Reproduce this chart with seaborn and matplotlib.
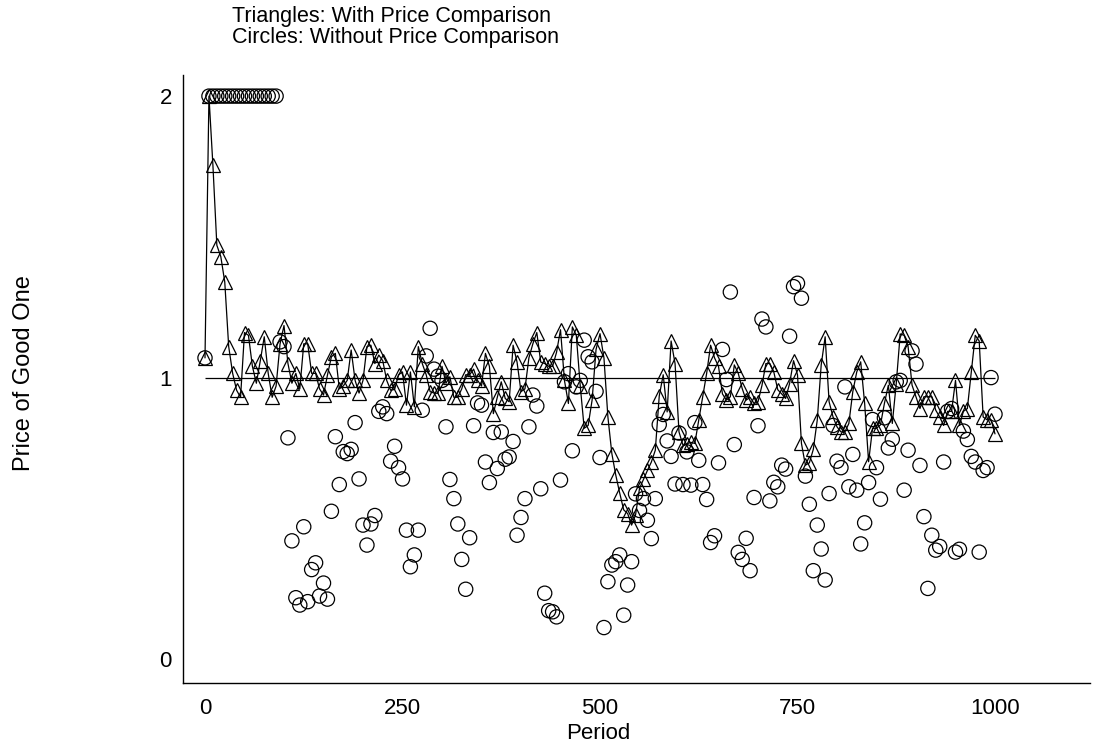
import numpy as np
import pandas as pd
import matplotlib
matplotlib.use("Agg")
import matplotlib.pyplot as plt
import seaborn as sns

# Price of good one, sampled every 5 periods
periods = np.arange(0, 1001, 5)

with_comparison = [
    1.07, 2.0, 1.755, 1.47, 1.43, 1.34, 1.11, 1.015, 0.955, 0.93,
    1.16, 1.15, 1.04, 0.98, 1.06, 1.145, 1.015, 0.93, 0.97, 1.12,
    1.185, 1.05, 0.98, 1.015, 0.96, 1.12, 1.12, 1.015, 1.015, 0.96,
    0.938, 1.009, 1.074, 1.086, 0.96, 0.97, 0.99, 1.098, 0.99, 0.945,
    0.99, 1.11, 1.115, 1.05, 1.08, 1.06, 0.99, 0.955, 0.958, 1.01,
    1.02, 0.902, 1.02, 0.896, 1.11, 1.05, 1.01, 0.95, 0.945, 0.944,
    1.04, 0.98, 1.003, 0.93, 0.93, 0.96, 1.01, 1.01, 1.03, 0.99,
    0.97, 1.086, 1.04, 0.872, 0.93, 0.985, 0.926, 0.914, 1.115, 1.055,
    0.95, 0.96, 1.07, 1.12, 1.16, 1.055, 1.05, 1.04, 1.04, 1.09,
    1.17, 0.99, 0.908, 1.18, 1.15, 0.97, 0.82, 0.83, 0.92, 1.10,
    1.156, 1.07, 0.86, 0.73, 0.653, 0.589, 0.53, 0.517, 0.476, 0.512,
    0.606, 0.638, 0.67, 0.70, 0.742, 0.935, 1.01, 0.878, 1.13, 1.05,
    0.807, 0.76, 0.765, 0.77, 0.766, 0.849, 0.932, 1.015, 1.115, 1.07,
    1.04, 0.942, 0.92, 0.932, 1.045, 1.015, 0.961, 0.92, 0.93, 0.908,
    0.914, 0.972, 1.05, 1.05, 1.02, 0.957, 0.942, 0.926, 0.979, 1.06,
    1.01, 0.766, 0.689, 0.697, 0.745, 0.849, 1.045, 1.145, 0.914, 0.86,
    0.825, 0.807, 0.807, 0.837, 0.95, 1.02, 1.056, 0.908, 0.701, 0.82,
    0.82, 0.832, 0.908, 0.973, 0.837, 0.979, 1.155, 1.15, 1.11, 0.973,
    0.932, 0.89, 0.932, 0.932, 0.932, 0.884, 0.86, 0.83, 0.88, 0.88,
    0.99, 0.83, 0.88, 0.89, 1.02, 1.15, 1.13, 0.86, 0.85, 0.85,
    0.80,
]

without_comparison = [
    1.07, 2.0, 2.0, 2.0, 2.0, 2.0, 2.0, 2.0, 2.0, 2.0,
    2.0, 2.0, 2.0, 2.0, 2.0, 2.0, 2.0, 2.0, 2.0, 1.127,
    1.11, 0.786, 0.42, 0.218, 0.192, 0.47, 0.204, 0.318, 0.342, 0.224,
    0.27, 0.213, 0.525, 0.79, 0.62, 0.737, 0.73, 0.745, 0.84, 0.64,
    0.476, 0.405, 0.48, 0.51, 0.88, 0.896, 0.872, 0.703, 0.756, 0.68,
    0.64, 0.458, 0.328, 0.37, 0.458, 0.884, 1.077, 1.175, 1.03, 1.005,
    0.99, 0.825, 0.638, 0.57, 0.48, 0.354, 0.248, 0.431, 0.829, 0.91,
    0.902, 0.70, 0.627, 0.805, 0.677, 0.807, 0.71, 0.718, 0.773, 0.44,
    0.503, 0.57, 0.825, 0.938, 0.899, 0.605, 0.234, 0.172, 0.168, 0.15,
    0.636, 0.985, 1.014, 0.74, 0.967, 0.99, 1.133, 1.074, 1.056, 0.951,
    0.716, 0.112, 0.275, 0.334, 0.346, 0.37, 0.156, 0.263, 0.346, 0.587,
    0.528, 0.57, 0.493, 0.428, 0.57, 0.833, 0.869, 0.775, 0.72, 0.622,
    0.803, 0.62, 0.736, 0.618, 0.84, 0.706, 0.62, 0.567, 0.414, 0.438,
    0.697, 1.10, 0.993, 1.304, 0.762, 0.379, 0.354, 0.429, 0.314, 0.574,
    0.829, 1.208, 1.18, 0.562, 0.628, 0.612, 0.689, 0.675, 1.147, 1.323,
    1.335, 1.282, 0.65, 0.55, 0.314, 0.476, 0.391, 0.281, 0.588, 0.83,
    0.703, 0.68, 0.967, 0.612, 0.727, 0.6, 0.409, 0.484, 0.627, 0.851,
    0.68, 0.568, 0.857, 0.75, 0.781, 0.985, 0.99, 0.6, 0.742, 1.095,
    1.048, 0.688, 0.506, 0.251, 0.44, 0.387, 0.40, 0.70, 0.88, 0.89,
    0.38, 0.39, 0.81, 0.78, 0.72, 0.70, 0.38, 0.67, 0.68, 1.0,
    0.87,
]

x_ticks = [0, 250, 500, 750, 1000]
y_ticks = [0, 1, 2]
reference_price = 1

title_lines = ["Triangles: With Price Comparison", "Circles: Without Price Comparison"]
x_label = "Period"
y_label = "Price of Good One"

df = pd.DataFrame({
    "period": periods,
    "with_cmp": with_comparison,
    "without_cmp": without_comparison,
})

sns.set_style("white")
plt.rcParams["font.family"] = ["Liberation Sans", "DejaVu Sans"]
plt.rcParams["text.color"] = "black"
plt.rcParams["axes.labelcolor"] = "black"

W, H = 1113, 751
AX_L, AX_R, AX_T, AX_B = 183, 1090, 75, 683
fig = plt.figure(figsize=(W / 100, H / 100), dpi=100)
ax = fig.add_axes([AX_L / W, 1 - AX_B / H, (AX_R - AX_L) / W, (AX_B - AX_T) / H])

# horizontal reference at the competitive price
ax.hlines(reference_price, df["period"].min(), df["period"].max(),
          color="black", linewidth=0.9, zorder=1)

# circles: prices without price comparison
sns.scatterplot(data=df, x="period", y="without_cmp", ax=ax, marker="o",
                s=105, facecolors="none", edgecolor="black", linewidth=0.9,
                zorder=2, legend=False)

# triangles joined by a line: prices with price comparison
sns.lineplot(data=df, x="period", y="with_cmp", ax=ax, color="black",
             linewidth=0.9, marker="^", markersize=9.5,
             markerfacecolor="none", markeredgecolor="black",
             markeredgewidth=0.9, zorder=3, legend=False)

# 0 sits at x=205 px, 1000 at x=995 px
px_per_unit = 0.79
ax.set_xlim((AX_L - 205) / px_per_unit, (AX_R - 205) / px_per_unit)
ax.set_ylim(-0.085, 2.075)
ax.set_xticks(x_ticks)
ax.set_xticklabels([str(t) for t in x_ticks])
ax.set_yticks(y_ticks)
ax.set_yticklabels([str(t) for t in y_ticks])

for side in ("top", "right"):
    ax.spines[side].set_visible(False)
for side in ("left", "bottom"):
    ax.spines[side].set_color("black")
    ax.spines[side].set_linewidth(1.0)

ax.tick_params(axis="both", direction="out", length=6, width=1.0,
               color="black", labelsize=16, labelcolor="black")
ax.tick_params(axis="y", pad=2)
ax.tick_params(axis="x", pad=5)
ax.set_xlabel(x_label, fontsize=16, labelpad=0)
ax.xaxis.set_label_coords((598 - AX_L) / (AX_R - AX_L), -0.066)
ax.set_ylabel(y_label, fontsize=17)
ax.yaxis.set_label_coords((35 - AX_L) / (AX_R - AX_L), 0.51)
ax.grid(False)

fig.text(232 / W, 1 - 6 / H, title_lines[0] + "\n" + title_lines[1],
         ha="left", va="top", fontsize=15.5, linespacing=1.0)

fig.savefig("out.png", dpi=100, facecolor="white")
